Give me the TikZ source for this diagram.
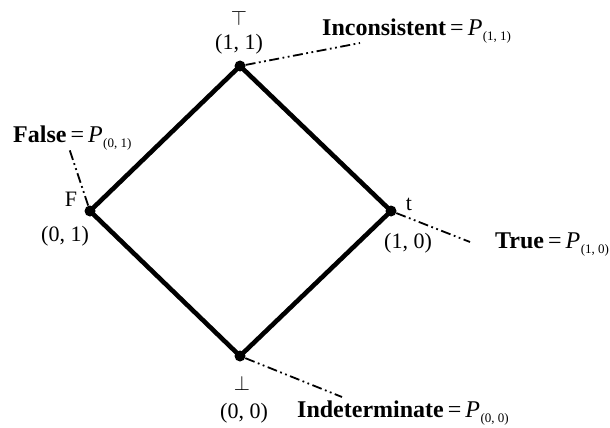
\documentclass[tikz,border=0pt]{standalone}
\usepackage{fontspec}
\setmainfont{Liberation Serif}
\newcommand{\psub}[1]{\textit{P}\kern0.5pt\raisebox{-5pt}{\fontsize{13}{13}\selectfont#1}}

\begin{document}
\begin{tikzpicture}[x=1pt,y=-1pt,
  vert/.style={circle,fill=black,inner sep=0pt,minimum size=11pt},
  edge/.style={line width=4.6pt,line join=round},
  lead/.style={line width=1.8pt,dash pattern=on 10pt off 3.5pt on 1.8pt off 3.5pt on 1.8pt off 3.5pt},
  pairlab/.style={font=\fontsize{22}{22}\selectfont,inner sep=0pt},
  truthlab/.style={font=\fontsize{24}{24}\selectfont\bfseries,inner sep=0pt,anchor=base west},
]
  \useasboundingbox (0,0) rectangle (610,428);
  % lattice
  \node[vert] (top) at (240,66) {};
  \node[vert] (lft) at (90,211) {};
  \node[vert] (rgt) at (391,211) {};
  \node[vert] (bot) at (240,356) {};
  \draw[edge] (top.center) -- (rgt.center) -- (bot.center) -- (lft.center) -- cycle;
  % vertex labels
  \node[pairlab] (topsym) at (239,18) {$\top$};
  \node[pairlab] (toplab) at (239,44) {(1, 1)};
  \node[pairlab] (lftsym) at (71,199) {F};
  \node[pairlab] (lftlab) at (65,236) {(0, 1)};
  \node[pairlab] (rgtsym) at (409,204) {t};
  \node[pairlab] (rgtlab) at (408,243) {(1, 0)};
  \node[pairlab] (botsym) at (242,383) {$\bot$};
  \node[pairlab] (botlab) at (244,413) {(0, 0)};
  % truth values
  \node[truthlab] (incons) at (322,36) {Inconsistent\,{\mdseries=\,\psub{(1, 1)}}};
  \node[truthlab] (false) at (13,142) {False\,{\mdseries=\,\psub{(0, 1)}}};
  \node[truthlab] (true) at (495,248) {True\,{\mdseries=\,\psub{(1, 0)}}};
  \node[truthlab] (indet) at (297,417) {Indeterminate\,{\mdseries=\,\psub{(0, 0)}}};
  \coordinate (inconsend) at (360,43);
  \coordinate (falseend) at (69,148);
  \coordinate (trueend) at (470,242);
  \coordinate (indetend) at (342,397);
  \draw[lead] (top) -- (inconsend);
  \draw[lead] (lft) -- (falseend);
  \draw[lead] (rgt) -- (trueend);
  \draw[lead] (bot) -- (indetend);
\end{tikzpicture}
\end{document}
